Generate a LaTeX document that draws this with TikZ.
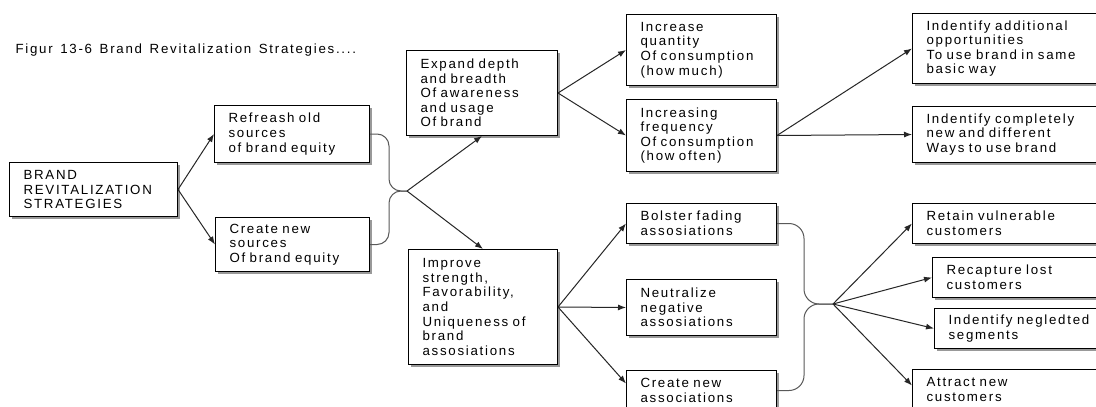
\documentclass[tikz,border=0pt]{standalone}
\usepackage{fontspec}
\setmainfont{Liberation Sans}[LetterSpace=13,WordSpace=1.4]
\usetikzlibrary{arrows.meta,shadows}

\begin{document}
\begin{tikzpicture}[x=1pt,y=-1pt,
    every node/.style={font=\fontsize{13.3}{14.6}\selectfont},
    box/.style 2 args={draw=black,line width=1pt,fill=white,anchor=north west,
        minimum width=#1,minimum height=#2,text width=#1-28pt,
        inner xsep=14pt,inner ysep=0pt,align=left,
        drop shadow={shadow xshift=2pt,shadow yshift=-2pt,fill=black!40,opacity=1}},
    arr/.style={draw=black!85,line width=1pt,-{Latex[length=8pt,width=6pt]}},
    brace/.style={draw=black!65,line width=1pt,rounded corners=12pt}]
    \clip (0,0) rectangle (1096,407);
    \fill[white] (0,0) rectangle (1096,407);
    \node[anchor=base west] (title) at (12,53) {Figur 13-6 Brand Revitalization Strategies....};
    \node[box={168pt}{54pt}] (brand) at (9,162) {BRAND\\REVITALIZATION\\STRATEGIES};
    \node[box={155pt}{57pt}] (refresh) at (214,105) {Refreash old\\sources\\of brand equity};
    \node[box={154pt}{54pt}] (newsrc) at (215,217) {Create new\\sources\\Of brand equity};
    \node[box={151pt}{85pt}] (expand) at (406,50) {Expand depth\\and breadth\\Of awareness\\and usage\\Of brand};
    \node[box={149pt}{115pt}] (improve) at (408,249) {Improve\\strength,\\Favorability,\\and\\Uniqueness of\\brand\\assosiations};
    \node[box={150pt}{71pt}] (quantity) at (626,14) {Increase\\quantity\\Of consumption\\(how much)};
    \node[box={150pt}{72pt}] (frequency) at (626,99) {Increasing\\frequency\\Of consumption\\(how often)};
    \node[box={150pt}{40pt}] (bolster) at (626,203) {Bolster fading\\assosiations};
    \node[box={150pt}{56pt}] (neutral) at (626,279) {Neutralize\\negative\\assosiations};
    \node[box={150pt}{40pt}] (newassoc) at (626,370) {Create new\\associations};
    \node[box={220pt}{70pt}] (additional) at (912,13) {Indentify additional\\opportunities\\To use brand in same\\basic way};
    \node[box={220pt}{56pt}] (different) at (912,106) {Indentify completely\\new and different\\Ways to use brand};
    \node[box={220pt}{40pt}] (retain) at (912,203) {Retain vulnerable\\customers};
    \node[box={200pt}{40pt}] (recapture) at (932,257) {Recapture lost\\customers};
    \node[box={200pt}{40pt}] (neglected) at (934,308) {Indentify negledted\\segments};
    \node[box={220pt}{40pt}] (attract) at (912,369) {Attract new\\customers};
    \coordinate (j1) at (407,191);
    \coordinate (b1) at (389,191);
    \coordinate (j2) at (833,304);
    \coordinate (b2) at (804,304);
    \draw[arr] (brand.east) -- (refresh.west);
    \draw[arr] (brand.east) -- (newsrc.west);
    \draw[brace] (refresh.east) -- (refresh.east -| b1) -- (b1) -- (j1);
    \draw[brace] (newsrc.east) -- (newsrc.east -| b1) -- (b1) -- (j1);
    \draw[arr] (j1) -- (expand.south);
    \draw[arr] (j1) -- (improve.north);
    \draw[arr] (expand.east) -- (quantity.west);
    \draw[arr] (expand.east) -- (frequency.west);
    \draw[arr] (improve.east) -- (bolster.west);
    \draw[arr] (improve.east) -- (neutral.west);
    \draw[arr] (improve.east) -- ([yshift=7pt]newassoc.west);
    \draw[arr] (frequency.east) -- (additional.west);
    \draw[arr] (frequency.east) -- (different.west);
    \draw[brace,rounded corners=15pt] (bolster.east) -- (bolster.east -| b2) -- (b2) -- (j2);
    \draw[brace,rounded corners=15pt] (newassoc.east) -- (newassoc.east -| b2) -- (b2) -- (j2);
    \draw[arr] (j2) -- (retain.west);
    \draw[arr] (j2) -- (recapture.west);
    \draw[arr] (j2) -- (neglected.west);
    \draw[arr] (j2) -- ([yshift=4pt]attract.west);
\end{tikzpicture}
\end{document}
